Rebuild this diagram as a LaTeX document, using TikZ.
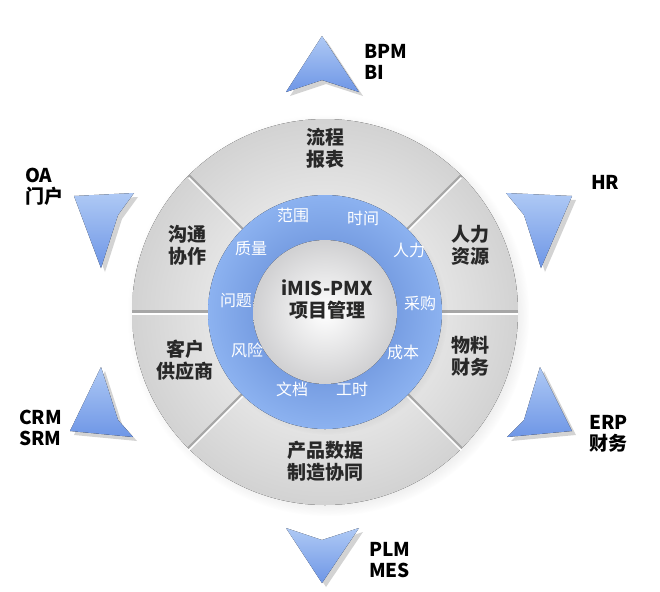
\documentclass[tikz,border=0pt]{standalone}
\usepackage{fontspec}
\setmainfont{Noto Sans CJK SC}
\usetikzlibrary{shadows,positioning}
\definecolor{ringblue}{RGB}{96,140,228}
\definecolor{ringlight}{RGB}{140,178,240}
\definecolor{disk}{RGB}{222,222,224}
\definecolor{triblue}{RGB}{110,150,230}
\definecolor{txt}{RGB}{40,40,40}

\begin{document}
\begin{tikzpicture}[x=0.5pt,y=-0.5pt,
  sector/.style={font=\bfseries\fontsize{9.5}{11}\selectfont,text=txt,align=center},
  item/.style={font=\fontsize{8}{9}\selectfont,text=white},
  sys/.style={font=\bfseries\fontsize{9.5}{10.5}\selectfont,text=black,align=left,anchor=west},
  tri/.style={top color=ringlight!70!white,bottom color=triblue,draw=none,
    drop shadow={shadow xshift=2pt,shadow yshift=-2pt,opacity=.35}}]

  \useasboundingbox (0,0) rectangle (660,591);
  \coordinate (c) at (325,312);

  % outer wheel
  \fill[inner color=white,outer color=gray!35,
    circular drop shadow={shadow scale=1.04,opacity=.3}] (c) circle[radius=193];
  \foreach \a in {0,45,135,180,225,315}{
    \draw[gray!70,line width=1.6pt] (c) ++(\a:-116) -- ++(\a:-77);
    \draw[white,line width=0.8pt] ([yshift=-1pt]c) ++(\a:-116) -- ++(\a:-77);
  }

  % blue ring and centre
  \fill[inner color=ringblue!90!black,outer color=ringlight,
    circular drop shadow={shadow scale=1.02,opacity=.25}] (c) circle[radius=117];
  \fill[inner color=white,outer color=disk!85!gray] (c) circle[radius=72];

  \node[sector] (core) at (327,300) {iMIS-PMX\\项目管理};

  % sectors
  \node[sector] (s1) at (325,148) {流程\\报表};
  \node[sector] (s2) at (187,245) {沟通\\协作};
  \node[sector] (s3) at (470,245) {人力\\资源};
  \node[sector] (s4) at (185,360) {客户\\供应商};
  \node[sector] (s5) at (470,356) {物料\\财务};
  \node[sector] (s6) at (325,461) {产品数据\\制造协同};

  % ring items
  \node[item] (i1) at (293,215) {范围};
  \node[item] (i2) at (363,218) {时间};
  \node[item] (i3) at (251,248) {质量};
  \node[item] (i4) at (409,250) {人力};
  \node[item] (i5) at (236,301) {问题};
  \node[item] (i6) at (420,303) {采购};
  \node[item] (i7) at (247,350) {风险};
  \node[item] (i8) at (403,352) {成本};
  \node[item] (i9) at (292,389) {文档};
  \node[item] (i10) at (352,389) {工时};

  % outer triangles
  \fill[tri] (322,36) -- (359,92) -- (322,80) -- (286,92) -- cycle;
  \fill[tri] (74,196) -- (134,193) -- (118,215) -- (101,268) -- cycle;
  \fill[tri] (506,193) -- (572,196) -- (541,268) -- (524,215) -- cycle;
  \fill[tri] (101,367) -- (118,420) -- (133,437) -- (70,431) -- cycle;
  \fill[tri] (540,367) -- (572,431) -- (507,437) -- (524,420) -- cycle;
  \fill[tri] (286,528) -- (322,540) -- (359,528) -- (322,583) -- cycle;

  % system labels
  \node[sys] (bpm) at (357,62) {BPM\\BI};
  \node[sys] (oa) at (18,187) {OA\\门户};
  \node[sys] (hr) at (584,182) {HR};
  \node[sys] (crm) at (12,428) {CRM\\SRM};
  \node[sys] (erp) at (582,434) {ERP\\财务};
  \node[sys] (plm) at (362,560) {PLM\\MES};
\end{tikzpicture}
\end{document}
